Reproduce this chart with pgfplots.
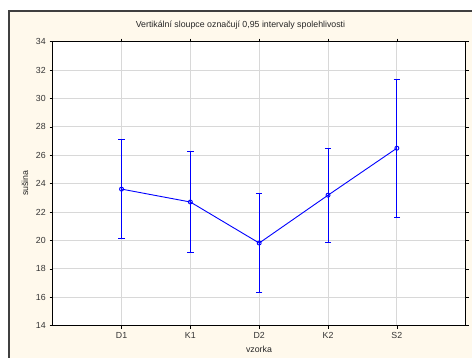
\documentclass[border=0pt]{standalone}
\usepackage{pgfplots}
\pgfplotsset{compat=1.18}
\usepackage{fontspec}
\setmainfont{Liberation Sans}
\definecolor{cream}{HTML}{FFF9EC}
\definecolor{framec}{HTML}{404040}
\definecolor{gridc}{HTML}{D8D8D8}
\pgfplotstableread{
x y ep em
1 23.62 3.49 3.49
2 22.71 3.53 3.53
3 19.82 3.49 3.49
4 23.19 3.32 3.32
5 26.50 4.85 4.85
}\data
\begin{document}
\begin{tikzpicture}[x=1pt,y=1pt]
\path[use as bounding box] (0,0) rectangle (472,358);
\fill[white] (0,0) rectangle (472,358);
\fill[cream] (9,0) rectangle (472,347);
\draw[framec, line width=1.6pt] (9,0) -- (9,347) -- (472,347);
\begin{axis}[
  at={(52.7pt,32.3pt)}, anchor=south west,
  scale only axis, width=413pt, height=284pt,
  xmin=0, xmax=6, ymin=14, ymax=34,
  xtick={1,2,3,4,5}, xticklabels={D1,K1,D2,K2,S2},
  ytick={14,16,...,34},
  grid=major, grid style={gridc, line width=1pt},
  axis line style={black, line width=0.9pt},
  axis background/.style={fill=white},
  tick style={black, line width=0.6pt},
  tick align=outside, major tick length=3pt,
  ticklabel style={font=\fontsize{8.8}{10}\selectfont, text=black!80},
  /pgf/number format/assume math mode=true,
  yticklabel style={xshift=-0.5pt},
  xticklabel style={yshift=0pt},
]
\addplot[blue, line width=0.9pt, mark=o, mark size=2pt, mark options={fill=white, line width=0.9pt},
  error bars/.cd, y dir=both, y explicit,
  error bar style={line width=0.9pt},
  error mark options={rotate=90, mark size=3.2pt, line width=0.9pt}]
  table[x=x, y=y, y error plus=ep, y error minus=em] {\data};
\end{axis}
\node[font=\fontsize{8.8}{10}\selectfont, text=black!85] at (240.5,333) {Vertikální sloupce označují 0,95 intervaly spolehlivosti};
\node[font=\fontsize{8.8}{10}\selectfont, text=black!85, rotate=90] at (25,175) {sušina};
\node[font=\fontsize{8.8}{10}\selectfont, text=black!85] at (259,9) {vzorka};
\end{tikzpicture}
\end{document}
